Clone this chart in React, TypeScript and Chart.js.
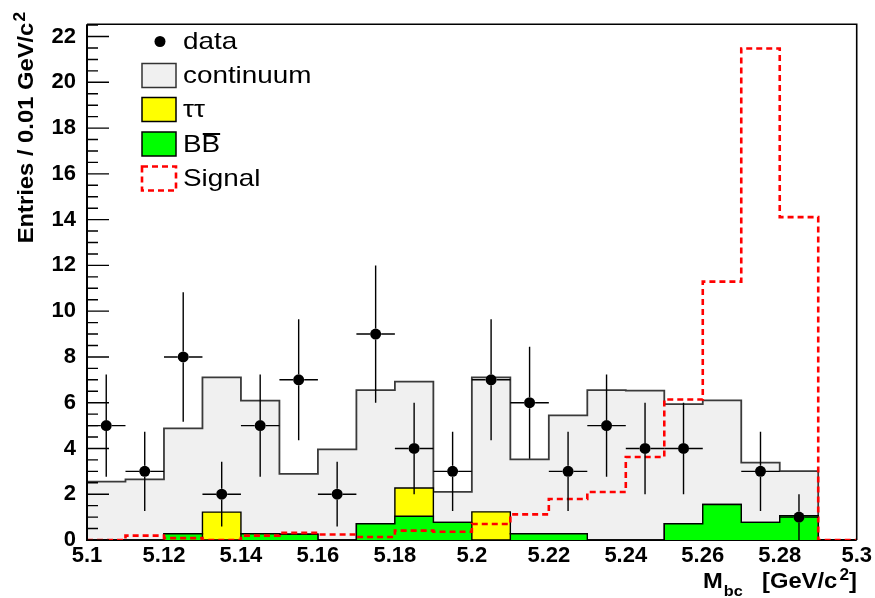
import React, { useEffect, useRef } from "react";
import { Chart, registerables } from "chart.js";

Chart.register(...registerables);

// ---------- data ----------
const binLow = [5.10, 5.11, 5.12, 5.13, 5.14, 5.15, 5.16, 5.17, 5.18, 5.19, 5.20, 5.21, 5.22, 5.23, 5.24, 5.25, 5.26, 5.27, 5.28, 5.29];
const binWidth = 0.01;
const continuum = [2.55, 2.65, 4.61, 5.89, 5.82, 2.64, 3.96, 5.84, 4.65, 1.33, 5.88, 3.25, 5.18, 6.55, 6.53, 5.23, 4.55, 2.61, 1.95, 0];
const tautau = [0, 0, 0, 1.22, 0, 0, 0, 0, 1.23, 0, 1.23, 0, 0, 0, 0, 0, 0, 0, 0, 0];
const bbbar = [0, 0, 0.27, 0, 0.27, 0.25, 0, 0.71, 1.04, 0.77, 0, 0.27, 0.27, 0, 0, 0.71, 1.55, 0.77, 1.06, 0];
const signal = [0, 0.19, 0.08, 0, 0.19, 0.31, 0.24, 0.13, 0.41, 0.36, 0.70, 1.12, 1.79, 2.10, 3.63, 6.14, 11.29, 21.48, 14.11, 0];
const dataCounts: (number | null)[] = [5, 3, 8, 2, 5, 7, 2, 9, 4, 3, 7, 6, 3, 5, 4, 4, null, 3, 1, null];

const xTickValues = [5.1, 5.12, 5.14, 5.16, 5.18, 5.2, 5.22, 5.24, 5.26, 5.28, 5.3];
const yTickValues = [0, 2, 4, 6, 8, 10, 12, 14, 16, 18, 20, 22];
const yMinorPerMajor = 4;
const xMin = 5.1;
const xMax = 5.3;
const yMin = 0;
const yMax = 22.54;

const legendLabels = ["data", "continuum", "\u03c4\u03c4", "BB", "Signal"];
const yTitle = "Entries / 0.01 GeV/c";
const xTitleMain = "M";
const xTitleSub = "bc";
const xTitleUnit = "[GeV/c";

// ---------- helpers ----------
const last = binLow.length - 1;
const stepPoints = (vals: number[]) => [
  ...binLow.map((x, i) => ({ x, y: vals[i] })),
  { x: binLow[last] + binWidth, y: vals[last] },
];
const sumArr = (...arrs: number[][]) => binLow.map((_, i) => arrs.reduce((s, a) => s + a[i], 0));

const FONT = "'Liberation Sans', Arial, Helvetica, sans-serif";
const MARKER_R = 5.5;

const errorBarPlugin = {
  id: "errorBars",
  beforeDatasetDraw(chart: any, args: any) {
    if (args.meta.type !== "scatter") return;
    const ctx = chart.ctx;
    const xs = chart.scales.x;
    const ys = chart.scales.y;
    ctx.save();
    ctx.strokeStyle = "#000";
    ctx.lineWidth = 1.4;
    dataCounts.forEach((n, i) => {
      if (n === null) return;
      const cx = xs.getPixelForValue(binLow[i] + binWidth / 2);
      const cy = ys.getPixelForValue(n);
      const xl = xs.getPixelForValue(binLow[i]);
      const xr = xs.getPixelForValue(binLow[i] + binWidth);
      const err = Math.sqrt(n);
      const yTop = ys.getPixelForValue(n + err);
      const yBot = ys.getPixelForValue(Math.max(0, n - err));
      ctx.beginPath();
      ctx.moveTo(xl, cy);
      ctx.lineTo(cx - MARKER_R, cy);
      ctx.moveTo(cx + MARKER_R, cy);
      ctx.lineTo(xr, cy);
      ctx.moveTo(cx, yTop);
      ctx.lineTo(cx, cy - MARKER_R);
      ctx.moveTo(cx, cy + MARKER_R);
      ctx.lineTo(cx, yBot);
      ctx.stroke();
    });
    ctx.restore();
  },
};

const framePlugin = {
  id: "frame",
  beforeDatasetsDraw(chart: any) {
    const ctx = chart.ctx;
    const xs = chart.scales.x;
    const ys = chart.scales.y;
    const l = xs.getPixelForValue(xMin);
    const r = xs.getPixelForValue(xMax);
    const b = ys.getPixelForValue(yMin);
    ctx.save();
    ctx.strokeStyle = "#000";
    ctx.lineWidth = 2;
    ctx.beginPath();
    ctx.moveTo(l, b);
    ctx.lineTo(r, b);
    ctx.stroke();
    ctx.restore();
  },
  afterDatasetsDraw(chart: any) {
    const ctx = chart.ctx;
    const xs = chart.scales.x;
    const ys = chart.scales.y;
    const l = xs.getPixelForValue(xMin);
    const r = xs.getPixelForValue(xMax);
    const b = ys.getPixelForValue(yMin);
    const t = ys.getPixelForValue(yMax);
    ctx.save();
    ctx.strokeStyle = "#000";
    ctx.lineWidth = 1.6;
    ctx.beginPath();
    ctx.moveTo(l, t);
    ctx.lineTo(r, t);
    ctx.lineTo(r, b);
    ctx.stroke();
    ctx.lineWidth = 2;
    ctx.beginPath();
    ctx.moveTo(l, t);
    ctx.lineTo(l, b + 1);
    ctx.stroke();
    // y ticks inside the frame
    ctx.lineWidth = 1.4;
    ctx.beginPath();
    const step = yTickValues[1] - yTickValues[0];
    yTickValues.forEach((v) => {
      const y = ys.getPixelForValue(v);
      ctx.moveTo(l, y);
      ctx.lineTo(l + 22, y);
      for (let k = 1; k < yMinorPerMajor; k++) {
        const mv = v + (k * step) / yMinorPerMajor;
        if (mv > yMax) break;
        const my = ys.getPixelForValue(mv);
        ctx.moveTo(l, my);
        ctx.lineTo(l + 11, my);
      }
    });
    ctx.stroke();
    ctx.restore();
  },
};

const textPlugin = {
  id: "texts",
  afterDraw(chart: any) {
    const ctx = chart.ctx;
    ctx.save();
    // ----- legend -----
    const sx = 1.16;
    const boxX = 142;
    const boxW = 34;
    const boxH = 24;
    const textX = 183;
    const rows = [41.5, 75.5, 109.5, 144, 178.5];
    // data marker
    ctx.fillStyle = "#000";
    ctx.beginPath();
    ctx.arc(160, rows[0], MARKER_R, 0, Math.PI * 2);
    ctx.fill();
    const boxes = [
      { fill: "#f0f0f0", stroke: "#333", dash: [] as number[], lw: 1.5 },
      { fill: "#ffff00", stroke: "#000", dash: [] as number[], lw: 1.5 },
      { fill: "#00ff00", stroke: "#000", dash: [] as number[], lw: 1.5 },
      { fill: null, stroke: "#ff0000", dash: [6, 4], lw: 2.6 },
    ];
    boxes.forEach((bx, i) => {
      const cy = rows[i + 1];
      const y0 = cy - boxH / 2;
      if (bx.fill) {
        ctx.fillStyle = bx.fill;
        ctx.fillRect(boxX, y0, boxW, boxH);
      }
      ctx.strokeStyle = bx.stroke;
      ctx.lineWidth = bx.lw;
      ctx.setLineDash(bx.dash);
      ctx.strokeRect(boxX, y0, boxW, boxH);
      ctx.setLineDash([]);
    });
    ctx.fillStyle = "#000";
    ctx.font = `24px ${FONT}`;
    ctx.textBaseline = "middle";
    ctx.textAlign = "left";
    legendLabels.forEach((lab, i) => {
      ctx.save();
      ctx.translate(textX, rows[i] + 1);
      ctx.scale(sx, 1);
      ctx.fillText(lab, 0, 0);
      if (i === 3) {
        const wB = ctx.measureText("B").width;
        ctx.lineWidth = 2;
        ctx.strokeStyle = "#000";
        ctx.beginPath();
        ctx.moveTo(wB + 1, -11);
        ctx.lineTo(2 * wB, -11);
        ctx.stroke();
      }
      ctx.restore();
    });

    // ----- y title -----
    const ts = 1.08;
    ctx.textBaseline = "alphabetic";
    ctx.font = `bold 22px ${FONT}`;
    const wMain = ctx.measureText(yTitle).width;
    ctx.font = `bold 16px ${FONT}`;
    const wSup = ctx.measureText("2").width;
    const total = (wMain + 1 + wSup) * ts;
    ctx.save();
    ctx.translate(32.5, 12 + total);
    ctx.rotate(-Math.PI / 2);
    ctx.scale(ts, 1);
    ctx.font = `bold 22px ${FONT}`;
    ctx.fillText(yTitle, 0, 0);
    ctx.font = `bold 16px ${FONT}`;
    ctx.fillText("2", wMain + 1, -8);
    ctx.restore();

    // ----- x title -----
    ctx.save();
    ctx.translate(703, 588);
    ctx.scale(ts, 1);
    ctx.font = `bold 22px ${FONT}`;
    ctx.fillText(xTitleMain, 0, 0);
    const wM = ctx.measureText(xTitleMain).width;
    ctx.font = `bold 15px ${FONT}`;
    ctx.fillText(xTitleSub, wM + 1, 8);
    ctx.restore();

    ctx.save();
    ctx.translate(762, 588);
    ctx.scale(ts, 1);
    ctx.font = `bold 22px ${FONT}`;
    ctx.fillText(xTitleUnit, 0, 0);
    const wU = ctx.measureText(xTitleUnit).width;
    ctx.font = `bold 16px ${FONT}`;
    ctx.fillText("2", wU + 2, -8);
    const w2 = ctx.measureText("2").width;
    ctx.font = `bold 22px ${FONT}`;
    ctx.fillText("]", wU + 2 + w2, 0);
    ctx.restore();

    ctx.restore();
  },
};

export default function App() {
  const ref = useRef<HTMLCanvasElement | null>(null);

  useEffect(() => {
    document.body.style.margin = "0";
    const canvas = ref.current;
    if (!canvas) return;

    const totalVals = sumArr(bbbar, tautau, continuum);
    const bbTauVals = sumArr(bbbar, tautau);

    const chart = new Chart(canvas, {
      type: "line",
      data: {
        datasets: [
          {
            type: "scatter",
            label: "data",
            data: dataCounts
              .map((n, i) => (n === null ? null : { x: binLow[i] + binWidth / 2, y: n }))
              .filter((p) => p !== null) as any,
            backgroundColor: "#000",
            borderColor: "#000",
            borderWidth: 0,
            pointRadius: MARKER_R,
            pointStyle: "circle",
            order: 0,
          } as any,
          {
            label: "Signal",
            data: stepPoints(signal) as any,
            stepped: "before",
            borderColor: "#ff0000",
            borderWidth: 2.6,
            borderDash: [6, 4],
            fill: false,
            pointRadius: 0,
            order: 1,
          } as any,
          {
            label: "BB",
            data: stepPoints(bbbar) as any,
            stepped: "before",
            borderColor: "#000",
            borderWidth: 1.4,
            backgroundColor: "#00ff00",
            fill: "origin",
            pointRadius: 0,
            order: 2,
          } as any,
          {
            label: "tautau",
            data: stepPoints(bbTauVals) as any,
            stepped: "before",
            borderColor: "#000",
            borderWidth: 1.4,
            backgroundColor: "#ffff00",
            fill: "origin",
            pointRadius: 0,
            order: 3,
          } as any,
          {
            label: "continuum",
            data: stepPoints(totalVals) as any,
            stepped: "before",
            borderColor: "#3a3a3a",
            borderWidth: 1.8,
            backgroundColor: "#f0f0f0",
            fill: "origin",
            pointRadius: 0,
            order: 4,
          } as any,
        ],
      },
      options: {
        responsive: false,
        animation: false,
        devicePixelRatio: 1,
        events: [],
        layout: { padding: { top: 10, right: 18, left: 0, bottom: 0 } },
        plugins: {
          legend: { display: false },
          tooltip: { enabled: false },
        },
        scales: {
          x: {
            type: "linear",
            min: xMin,
            max: xMax,
            grid: { display: false, drawTicks: false },
            border: { display: false },
            afterBuildTicks: (s: any) => {
              s.ticks = xTickValues.map((v) => ({ value: v }));
            },
            afterFit: (s: any) => {
              s.height = 58;
            },
            ticks: {
              autoSkip: false,
              maxRotation: 0,
              padding: 3,
              color: "#000",
              font: { family: FONT, weight: "bold", size: 22 },
              callback: (v: any) => String(parseFloat(Number(v).toFixed(2))),
            },
          },
          y: {
            type: "linear",
            min: yMin,
            max: yMax,
            grid: { display: false, drawTicks: false },
            border: { display: false },
            afterBuildTicks: (s: any) => {
              s.ticks = yTickValues.map((v) => ({ value: v }));
            },
            afterFit: (s: any) => {
              s.width = 87;
            },
            ticks: {
              padding: 11,
              color: "#000",
              font: { family: FONT, weight: "bold", size: 22 },
              callback: (v: any) => String(v),
            },
          },
        },
      } as any,
      plugins: [framePlugin, errorBarPlugin, textPlugin],
    });

    return () => chart.destroy();
  }, []);

  return (
    <div style={{ position: "absolute", left: 0, top: 0, width: 875, height: 598, background: "#fff" }}>
      <canvas ref={ref} width={875} height={598} style={{ width: 875, height: 598, display: "block" }} />
    </div>
  );
}
